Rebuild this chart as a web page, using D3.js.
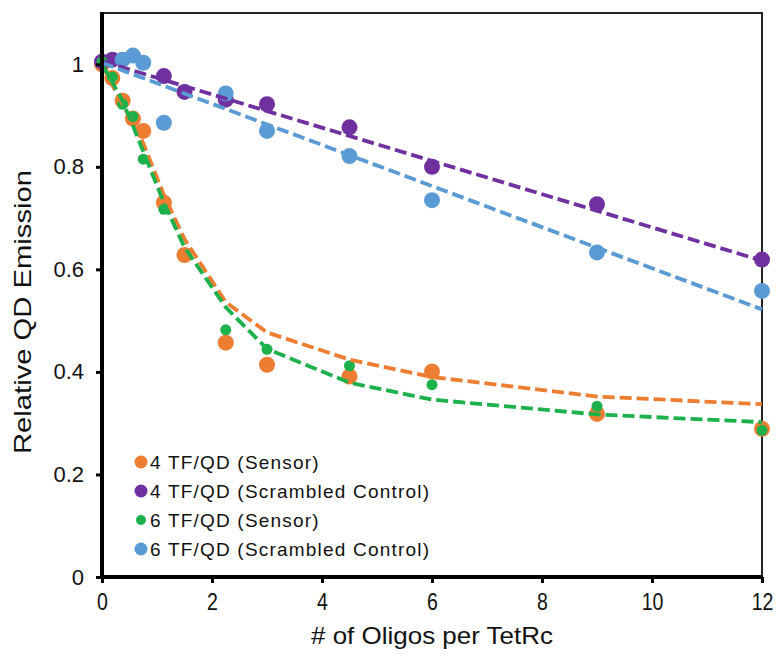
<!DOCTYPE html>
<html><head><meta charset="utf-8">
<script src="https://cdn.jsdelivr.net/npm/d3@7"></script>
<style>body{margin:0;background:#fff}svg{display:block;font-family:"Liberation Sans",Arial,sans-serif}</style>
</head><body><svg id="c" width="780" height="658"></svg>
<script>
// ---- data ----
const xTicks = [0, 2, 4, 6, 8, 10, 12];
const yTicks = [0, 0.2, 0.4, 0.6, 0.8, 1];
const yTickLabels = ["0", "0.2", "0.4", "0.6", "0.8", "1"];

const orangeX = [0, 0.1875, 0.375, 0.5625, 0.75, 1.125, 1.5, 2.25, 3, 4.5, 6, 9, 12];
const orangeY = [1.0, 0.973, 0.929, 0.894, 0.870, 0.730, 0.628, 0.457, 0.414, 0.391, 0.401, 0.318, 0.289];
const orangeFit = [1.0, 0.960, 0.922, 0.885, 0.846, 0.745, 0.659, 0.536, 0.477, 0.424, 0.390, 0.352, 0.337];

const purpleX = [0, 0.1875, 1.125, 1.5, 2.25, 3, 4.5, 6, 9, 12];
const purpleY = [1.005, 1.009, 0.977, 0.946, 0.931, 0.922, 0.877, 0.800, 0.727, 0.619];
const purpleFitX = [0, 12];
const purpleFit = [1.006, 0.617];

const greenX = [0, 0.1875, 0.375, 0.5625, 0.75, 1.125, 2.25, 3, 4.5, 6, 9, 12];
const greenY = [1.005, 0.975, 0.922, 0.898, 0.815, 0.717, 0.482, 0.444, 0.412, 0.375, 0.333, 0.286];
const greenFitX = [0, 0.1875, 0.375, 0.5625, 0.75, 1.125, 1.5, 2.25, 3, 4.5, 6, 9, 12];
const greenFit = [1.0, 0.965, 0.928, 0.880, 0.830, 0.730, 0.643, 0.526, 0.445, 0.379, 0.346, 0.317, 0.302];

const blueX = [0.375, 0.5625, 0.75, 1.125, 2.25, 3, 4.5, 6, 9, 12];
const blueY = [1.009, 1.017, 1.003, 0.886, 0.943, 0.870, 0.821, 0.735, 0.633, 0.558];
const blueFitX = [0, 12];
const blueFit = [1.003, 0.522];

const legendLabels = ["4 TF/QD (Sensor)", "4 TF/QD (Scrambled Control)", "6 TF/QD (Sensor)", "6 TF/QD (Scrambled Control)"];
const colors = ["#ED7D31", "#7030A0", "#1DB14B", "#5B9BD5"];
const xTitle = "# of Oligos per TetRc";
const yTitle = "Relative QD Emission";

// ---- chart ----
const svg = d3.select("#c");
const L = 102, R = 762, T = 13, B = 577;
const x = d3.scaleLinear().domain([0, 12]).range([L, R]);
const y = d3.scaleLinear().domain([0, 1.1]).range([B, T]);

// frame top & right (thin)
svg.append("path").attr("d", `M${L},${T}H${R}V${B}`).attr("fill", "none").attr("stroke", "#222").attr("stroke-width", 2);

const pts = (xs, ys) => xs.map((v, i) => [v, ys[i]]);
const series = [
  {c: colors[0], d: pts(orangeX, orangeY), r: 8, f: pts(orangeX, orangeFit)},
  {c: colors[1], d: pts(purpleX, purpleY), r: 8, f: pts(purpleFitX, purpleFit)},
  {c: colors[2], d: pts(greenX, greenY), r: 5.5, f: pts(greenFitX, greenFit)},
  {c: colors[3], d: pts(blueX, blueY), r: 8, f: pts(blueFitX, blueFit)}
];

const gP = svg.append("g");
series.forEach(s => {
  gP.selectAll(null).data(s.d).enter().append("circle")
    .attr("cx", d => x(d[0])).attr("cy", d => y(d[1])).attr("r", s.r).attr("fill", s.c);
});
const line = d3.line().x(d => x(d[0])).y(d => y(d[1]));
series.forEach(s => {
  svg.append("path").attr("d", line(s.f)).attr("fill", "none").attr("stroke", s.c)
    .attr("stroke-width", 3.8).attr("stroke-dasharray", "12,5");
});

// axes
const xAxis = d3.axisBottom(x).tickValues(xTicks).tickSize(5).tickFormat(d3.format("d"));
const gx = svg.append("g").attr("transform", `translate(0,${B})`).call(xAxis);
gx.select(".domain").attr("stroke", "#000").attr("stroke-width", 4).attr("d", `M${L-2},0H${R+1}`);
gx.selectAll(".tick line").attr("stroke", "#000").attr("stroke-width", 3).attr("y2", 6);
gx.selectAll(".tick text").attr("font-size", 23).attr("fill", "#111").attr("y", 17)
  .attr("font-family", "Liberation Sans").attr("transform", "scale(0.85,1)");

const yAxis = d3.axisLeft(y).tickValues(yTicks).tickSize(6).tickFormat((d, i) => yTickLabels[i]);
const gy = svg.append("g").attr("transform", `translate(${L},0)`).call(yAxis);
gy.select(".domain").attr("stroke", "#000").attr("stroke-width", 4).attr("d", `M0,${T-1}V${B+2}`);
gy.selectAll(".tick line").attr("stroke", "#000").attr("stroke-width", 3);
gy.selectAll(".tick text").attr("font-size", 22).attr("fill", "#111").attr("x", -18).attr("font-family", "Liberation Sans");

// titles
svg.append("text").attr("x", (L + R) / 2).attr("y", 644).attr("text-anchor", "middle")
  .attr("font-size", 24).attr("fill", "#111").attr("textLength", 242).attr("lengthAdjust", "spacingAndGlyphs").text(xTitle);
svg.append("text").attr("transform", `translate(31,${(B + T) / 2 + 17}) rotate(-90)`).attr("text-anchor", "middle")
  .attr("font-size", 24).attr("fill", "#111").attr("textLength", 284).attr("lengthAdjust", "spacingAndGlyphs").text(yTitle);

// legend
const lg = svg.append("g");
const legR = [6.5, 6.5, 5, 6.5];
legendLabels.forEach((t, i) => {
  const yy = 462 + i * 29;
  lg.append("circle").attr("cx", 141).attr("cy", yy).attr("r", legR[i]).attr("fill", colors[i]);
  lg.append("text").attr("x", 150).attr("y", yy + 7).attr("font-size", 19).attr("fill", "#111")
    .attr("letter-spacing", 1.2).text(t);
});
</script></body></html>
